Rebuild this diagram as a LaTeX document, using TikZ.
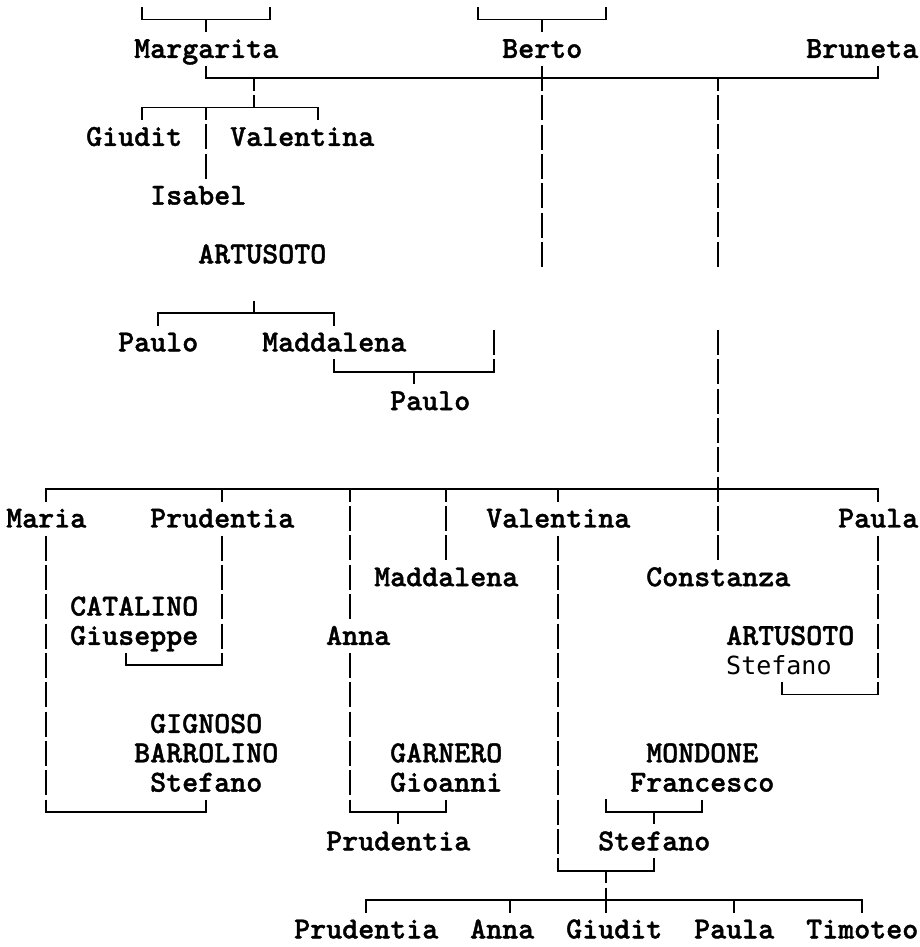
\documentclass[tikz,border=0pt]{standalone}
\usepackage{fontspec}
\newfontfamily\sansmono{DejaVu Sans Mono}
\newfontfamily\namefont{lmmonolt10-bold.otf}[FakeBold=1.3]

\newcommand{\colx}[1]{14+16*(#1)}
\newcommand{\rowy}[1]{19.5+29.35*(#1)}
\newcommand{\textx}[1]{6+16*(#1)}
\newcommand{\basey}[1]{28.5+29.35*(#1)}
\newcommand{\namesize}{\fontsize{30.5}{30.5}\selectfont}

\tikzset{
  person/.style={anchor=base west, inner sep=0pt, text height=21.5pt, text depth=3.5pt,
    font=\namesize\namefont},
  lastrow/.style={person, text depth=0pt},
  sibline/.style={line width=1.8pt, line cap=rect},
  dropline/.style={line width=1.8pt, dash pattern=on 25pt off 4.35pt, dash phase=12.5pt},
  riseline/.style={line width=1.8pt, dash pattern=on 25pt off 4.35pt, dash phase=25pt},
}

\begin{document}
\begin{tikzpicture}[x=1pt, y=-1pt]
  \useasboundingbox (0, 0) rectangle (919, 947);

  % names
  \node [person] (margarita) at ({\textx{8}}, {\basey{1}}) {Margarita};
  \node [person] (berto) at ({\textx{31}}, {\basey{1}}) {Berto};
  \node [person] (bruneta) at ({\textx{50}}, {\basey{1}}) {Bruneta};
  \node [person] (giudit) at ({\textx{5}}, {\basey{4}}) {Giudit};
  \node [person] (valentina) at ({\textx{14}}, {\basey{4}}) {Valentina};
  \node [person] (isabel) at ({\textx{9}}, {\basey{6}}) {Isabel};
  \node [person] (artusoto) at ({\textx{12}}, {\basey{8}}) {ARTUSOTO};
  \node [person] (paulo) at ({\textx{7}}, {\basey{11}}) {Paulo};
  \node [person] (maddalena) at ({\textx{16}}, {\basey{11}}) {Maddalena};
  \node [person] (paulojr) at ({\textx{24}}, {\basey{13}}) {Paulo};
  \node [person] (maria) at ({\textx{0}}, {\basey{17}}) {Maria};
  \node [person] (prudentia) at ({\textx{9}}, {\basey{17}}) {Prudentia};
  \node [person] (valentinab) at ({\textx{30}}, {\basey{17}}) {Valentina};
  \node [person] (paula) at ({\textx{52}}, {\basey{17}}) {Paula};
  \node [person] (maddalenab) at ({\textx{23}}, {\basey{19}}) {Maddalena};
  \node [person] (constanza) at ({\textx{40}}, {\basey{19}}) {Constanza};
  \node [person] (catalino) at ({\textx{4}}, {\basey{20}}) {CATALINO};
  \node [person] (giuseppe) at ({\textx{4}}, {\basey{21}}) {Giuseppe};
  \node [person] (anna) at ({\textx{20}}, {\basey{21}}) {Anna};
  \node [person] (artusotob) at ({\textx{45}}, {\basey{21}}) {ARTUSOTO};
  \node [person, font=\fontsize{25}{25}\selectfont\sansmono] (stefanoa) at ({\textx{45}}, {\basey{22}}) {Stefano};
  \node [person] (gignoso) at ({\textx{9}}, {\basey{24}}) {GIGNOSO};
  \node [person] (barrolino) at ({\textx{8}}, {\basey{25}}) {BARROLINO};
  \node [person] (garnero) at ({\textx{24}}, {\basey{25}}) {GARNERO};
  \node [person] (mondone) at ({\textx{40}}, {\basey{25}}) {MONDONE};
  \node [person] (stefanob) at ({\textx{9}}, {\basey{26}}) {Stefano};
  \node [person] (gioanni) at ({\textx{24}}, {\basey{26}}) {Gioanni};
  \node [person] (francesco) at ({\textx{39}}, {\basey{26}}) {Francesco};
  \node [person] (prudentiab) at ({\textx{20}}, {\basey{28}}) {Prudentia};
  \node [person] (stefanoc) at ({\textx{37}}, {\basey{28}}) {Stefano};
  \node [lastrow] (kid1) at ({\textx{18}}, {\basey{31}}) {Prudentia};
  \node [lastrow] (kid2) at ({\textx{29}}, {\basey{31}}) {Anna};
  \node [lastrow] (kid3) at ({\textx{35}}, {\basey{31}}) {Giudit};
  \node [lastrow] (kid4) at ({\textx{43}}, {\basey{31}}) {Paula};
  \node [lastrow] (kid5) at ({\textx{50}}, {\basey{31}}) {Timoteo};

  % parents of Margarita and Berto
  \coordinate (A0) at ({\colx{8}}, {\rowy{-1}+12.5});
  \coordinate (C0) at ({\colx{16}}, {\rowy{-1}+12.5});
  \coordinate (D0) at ({\colx{29}}, {\rowy{-1}+12.5});
  \coordinate (F0) at ({\colx{37}}, {\rowy{-1}+12.5});
  \coordinate (A) at ({\colx{8}}, {\rowy{0}});
  \coordinate (B) at ({\colx{12}}, {\rowy{0}});
  \coordinate (C) at ({\colx{16}}, {\rowy{0}});
  \coordinate (D) at ({\colx{29}}, {\rowy{0}});
  \coordinate (E) at ({\colx{33}}, {\rowy{0}});
  \coordinate (F) at ({\colx{37}}, {\rowy{0}});

  \draw [sibline] (A) -- (C);
  \draw [sibline] (D) -- (F);
  \draw [riseline] (A0) -- (A);
  \draw [riseline] (C0) -- (C);
  \draw [riseline] (D0) -- (D);
  \draw [riseline] (F0) -- (F);
  \draw [dropline] (B) -- (B |- margarita.north);
  \draw [dropline] (E) -- (E |- berto.north);

  % Margarita, Berto, Bruneta
  \coordinate (G) at ({\colx{12}}, {\rowy{2}});
  \coordinate (H) at ({\colx{15}}, {\rowy{2}});
  \coordinate (I) at ({\colx{33}}, {\rowy{2}});
  \coordinate (J) at ({\colx{44}}, {\rowy{2}});
  \coordinate (K) at ({\colx{54}}, {\rowy{2}});
  \coordinate (I1) at ({\colx{33}}, {\rowy{8}+12.5});
  \coordinate (J1) at ({\colx{44}}, {\rowy{8}+12.5});

  \draw [sibline] (G) -- (K);
  \draw [riseline] (margarita.south -| G) -- (G);
  \draw [riseline] (bruneta.south -| K) -- (K);
  \draw [riseline] (berto.south -| I) -- (I1);
  \draw [dropline] (J) -- (J1);

  \coordinate (L) at ({\colx{8}}, {\rowy{3}});
  \coordinate (M) at ({\colx{12}}, {\rowy{3}});
  \coordinate (N) at ({\colx{15}}, {\rowy{3}});
  \coordinate (O) at ({\colx{19}}, {\rowy{3}});

  \draw [dropline] (H) -- (N);
  \draw [sibline] (L) -- (O);
  \draw [dropline] (L) -- (L |- giudit.north);
  \draw [dropline] (M) -- (M |- isabel.north);
  \draw [dropline] (O) -- (O |- valentina.north);

  % ARTUSOTO
  \coordinate (Q0) at ({\colx{15}}, {\rowy{9}+12.5});
  \coordinate (P) at ({\colx{9}}, {\rowy{10}});
  \coordinate (Q) at ({\colx{15}}, {\rowy{10}});
  \coordinate (R) at ({\colx{20}}, {\rowy{10}});

  \draw [sibline] (P) -- (R);
  \draw [riseline] (Q0) -- (Q);
  \draw [dropline] (P) -- (P |- paulo.north);
  \draw [dropline] (R) -- (R |- maddalena.north);

  \coordinate (S) at ({\colx{30}}, {\rowy{10}+12.5});
  \coordinate (T) at ({\colx{20}}, {\rowy{12}});
  \coordinate (U) at ({\colx{25}}, {\rowy{12}});
  \coordinate (V) at ({\colx{30}}, {\rowy{12}});

  \draw [riseline] (S) -- (V);
  \draw [sibline] (T) -- (V);
  \draw [riseline] (maddalena.south -| T) -- (T);
  \draw [dropline] (U) -- (U |- paulojr.north);

  % Constanza line and her brothers and sisters
  \coordinate (W) at ({\colx{44}}, {\rowy{10}+12.5});
  \draw [riseline] (W) -- (W |- constanza.north);

  \coordinate (X1) at ({\colx{2}}, {\rowy{16}});
  \coordinate (X2) at ({\colx{13}}, {\rowy{16}});
  \coordinate (X3) at ({\colx{21}}, {\rowy{16}});
  \coordinate (X4) at ({\colx{27}}, {\rowy{16}});
  \coordinate (X5) at ({\colx{34}}, {\rowy{16}});
  \coordinate (X6) at ({\colx{54}}, {\rowy{16}});

  \draw [sibline] (X1) -- (X6);
  \draw [dropline] (X1) -- (X1 |- maria.north);
  \draw [dropline] (X2) -- (X2 |- prudentia.north);
  \draw [dropline] (X3) -- (X3 |- anna.north);
  \draw [dropline] (X4) -- (X4 |- maddalenab.north);
  \draw [dropline] (X5) -- (X5 |- valentinab.north);
  \draw [dropline] (X6) -- (X6 |- paula.north);

  % marriages
  \coordinate (Y1) at ({\colx{7}}, {\rowy{22}});
  \coordinate (Y2) at ({\colx{13}}, {\rowy{22}});
  \draw [riseline] (prudentia.south -| Y2) -- (Y2);
  \draw [riseline] (giuseppe.south -| Y1) -- (Y1);
  \draw [sibline] (Y1) -- (Y2);

  \coordinate (Z1) at ({\colx{48}}, {\rowy{23}});
  \coordinate (Z2) at ({\colx{54}}, {\rowy{23}});
  \draw [riseline] (paula.south -| Z2) -- (Z2);
  \draw [riseline] (stefanoa.south -| Z1) -- (Z1);
  \draw [sibline] (Z1) -- (Z2);

  \coordinate (a1) at ({\colx{2}}, {\rowy{27}});
  \coordinate (a2) at ({\colx{12}}, {\rowy{27}});
  \draw [riseline] (maria.south -| a1) -- (a1);
  \draw [riseline] (stefanob.south -| a2) -- (a2);
  \draw [sibline] (a1) -- (a2);

  \coordinate (b1) at ({\colx{21}}, {\rowy{27}});
  \coordinate (b2) at ({\colx{24}}, {\rowy{27}});
  \coordinate (b3) at ({\colx{27}}, {\rowy{27}});
  \draw [riseline] (anna.south -| b1) -- (b1);
  \draw [riseline] (gioanni.south -| b3) -- (b3);
  \draw [sibline] (b1) -- (b3);
  \draw [dropline] (b2) -- (b2 |- prudentiab.north);

  \coordinate (c0) at ({\colx{37}}, {\rowy{26}+12.5});
  \coordinate (c1) at ({\colx{37}}, {\rowy{27}});
  \coordinate (c2) at ({\colx{40}}, {\rowy{27}});
  \coordinate (c3) at ({\colx{43}}, {\rowy{27}});
  \draw [riseline] (c0) -- (c1);
  \draw [riseline] (francesco.south -| c3) -- (c3);
  \draw [sibline] (c1) -- (c3);
  \draw [dropline] (c2) -- (c2 |- stefanoc.north);

  \coordinate (d1) at ({\colx{34}}, {\rowy{29}});
  \coordinate (d2) at ({\colx{37}}, {\rowy{29}});
  \coordinate (d3) at ({\colx{40}}, {\rowy{29}});
  \draw [riseline] (valentinab.south -| d1) -- (d1);
  \draw [riseline] (stefanoc.south -| d3) -- (d3);
  \draw [sibline] (d1) -- (d3);
  \draw [dropline] (d2) -- (d2 |- kid3.north);

  % children of Valentina and Stefano
  \coordinate (e1) at ({\colx{22}}, {\rowy{30}});
  \coordinate (e2) at ({\colx{31}}, {\rowy{30}});
  \coordinate (e4) at ({\colx{45}}, {\rowy{30}});
  \coordinate (e5) at ({\colx{53}}, {\rowy{30}});
  \draw [sibline] (e1) -- (e5);
  \draw [dropline] (e1) -- (e1 |- kid1.north);
  \draw [dropline] (e2) -- (e2 |- kid2.north);
  \draw [dropline] (e4) -- (e4 |- kid4.north);
  \draw [dropline] (e5) -- (e5 |- kid5.north);

\end{tikzpicture}
\end{document}
